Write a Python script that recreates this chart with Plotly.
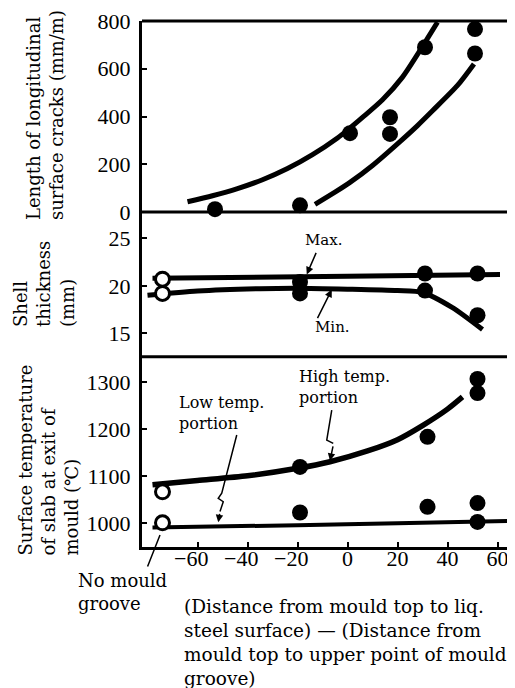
import plotly.graph_objects as go

# ---------------- data ----------------
# top panel: length of longitudinal surface cracks (mm/m)
crack_pts_x = [-53, -19, 1, 17, 17, 31, 51, 51]
crack_pts_y = [12, 28, 330, 397, 327, 690, 766, 664]
crack_upper_x = [-64, -54, -44, -34, -24, -14, -4, 0, 6, 14, 22, 28, 32, 36]
crack_upper_y = [43, 68, 98, 135, 182, 240, 310, 343, 396, 470, 565, 660, 727, 795]
crack_lower_x = [-13, -5, 1, 10, 21, 28, 34, 44, 50.6]
crack_lower_y = [32, 83, 124, 195, 295, 362, 424, 530, 620]

# middle panel: shell thickness (mm)
shell_pts_x = [-19, -19, 31, 31, 52, 52]
shell_pts_y = [20.4, 19.2, 21.3, 19.5, 21.3, 16.9]
shell_open_x = [-74, -74]
shell_open_y = [20.7, 19.2]
shell_max_x = [-78, 0, 61]
shell_max_y = [20.8, 21.0, 21.2]
shell_min_x = [-80, -60, -35, -20, 0, 20, 30, 42, 54]
shell_min_y = [19.0, 19.45, 19.7, 19.75, 19.65, 19.5, 19.3, 17.7, 15.4]

# bottom panel: surface temperature of slab at exit of mould (deg C)
temp_pts_x = [-19, -19, 32, 32, 52, 52, 52, 52]
temp_pts_y = [1120, 1023, 1184, 1035, 1307, 1277, 1043, 1003]
temp_open_x = [-74, -74]
temp_open_y = [1067, 1001]
temp_high_x = [-78, -60, -40, -20, -7, 8, 20, 30, 40, 46]
temp_high_y = [1082, 1091, 1101, 1117, 1131, 1154, 1178, 1208, 1243, 1269]
temp_low_x = [-78, -20, 20, 64]
temp_low_y = [991, 996, 1000, 1005]

x_ticks = [-60, -40, -20, 0, 20, 40, 60]
x_ticklabels = ["\u221260", "\u221240", "\u221220", "0", "20", "40", "60"]
crack_ticks = [0, 200, 400, 600, 800]
shell_ticks = [15, 20, 25]
temp_ticks = [1000, 1100, 1200, 1300]

# leader-line geometry for the labels (data coords)
low_leader_x = [-44.3, -50.3, -51.7, -49.7, -51.0]
low_leader_y = [1188, 1064, 1053, 1046, 1025]
high_leader_x = [-6.3, -8.3, -5.7]
high_leader_y = [1241, 1177, 1170]

# ---------------- figure ----------------
TICKFONT = dict(family="Liberation Serif", size=22, color="black")
SERIF = "DejaVu Serif"

# negative labels: pad with an invisible minus so the digits sit centred on the tick
PAD = "<span style='color:rgba(0,0,0,0)'>\u2212</span>"
x_ticktext = [t + PAD if t.startswith("\u2212") else t for t in x_ticklabels]

fig = go.Figure()

def pts(x, y, ya, open_=False):
    if open_:
        m = dict(size=14, color="white", line=dict(color="black", width=3))
    else:
        m = dict(size=16, color="black", line=dict(width=0))
    return go.Scatter(x=x, y=y, xaxis="x", yaxis=ya, mode="markers",
                      marker=m, cliponaxis=False, showlegend=False, hoverinfo="skip")

def curve(x, y, ya, w=5, sm=0.7):
    return go.Scatter(x=x, y=y, xaxis="x", yaxis=ya, mode="lines",
                      line=dict(color="black", width=w, shape="spline", smoothing=sm),
                      cliponaxis=False, showlegend=False, hoverinfo="skip")

fig.add_trace(curve(crack_upper_x, crack_upper_y, "y", 5))
fig.add_trace(curve(crack_lower_x, crack_lower_y, "y", 5))
fig.add_trace(pts(crack_pts_x, crack_pts_y, "y"))

fig.add_trace(curve(shell_max_x, shell_max_y, "y2", 5))
fig.add_trace(curve(shell_min_x, shell_min_y, "y2", 5))
fig.add_trace(pts(shell_pts_x, shell_pts_y, "y2"))
fig.add_trace(pts(shell_open_x, shell_open_y, "y2", open_=True))

fig.add_trace(curve(temp_high_x, temp_high_y, "y3", 5.5))
fig.add_trace(curve(temp_low_x, temp_low_y, "y3", 4))
fig.add_trace(pts(temp_pts_x, temp_pts_y, "y3"))
fig.add_trace(pts(temp_open_x, temp_open_y, "y3", open_=True))

# page has an 8px body margin: compensate so screen pixels match the reference
OFF = 8
L, R, T, B = 142 - OFF, 2 + OFF, 21 - OFF, 141 + OFF
W = 515 - L - R
H = 688 - T - B
def py(p):  # reference pixel row -> paper y
    return (688 - B - (p - OFF)) / H
def px(p):  # reference pixel col -> paper x
    return (p - OFF - L) / W

d_top = py(212)
d_mid = py(356.7)

yax = dict(showgrid=False, zeroline=False, showline=True, linecolor="black", linewidth=3,
           ticks="inside", ticklen=5, tickwidth=2, tickcolor="black",
           tickfont=TICKFONT, anchor="x", ticklabelstandoff=4, automargin=False)

fig.update_layout(
    width=515, height=688,
    margin=dict(l=L, r=R, t=T, b=B, autoexpand=False),
    paper_bgcolor="white", plot_bgcolor="white",
    xaxis=dict(domain=[0, 1], range=[-82.2, 66.2], anchor="y3", automargin=False,
               showgrid=False, zeroline=False, showline=True, linecolor="black", linewidth=3,
               ticks="inside", ticklen=5, tickwidth=2, tickcolor="black",
               tickvals=x_ticks, ticktext=x_ticktext, tickfont=TICKFONT,
               ticklabelstandoff=-10),
    yaxis=dict(domain=[d_top, 1], range=[0, 800], tickvals=crack_ticks, **yax),
    yaxis2=dict(domain=[d_mid, d_top], range=[12.54, 27.77], tickvals=shell_ticks, **yax),
    yaxis3=dict(domain=[0, d_mid], range=[949.6, 1354.5], tickvals=temp_ticks, **yax),
)

# panel borders (horizontal)
for yy in [1, d_top, d_mid]:
    fig.add_shape(type="line", xref="paper", yref="paper", x0=0, x1=1.005, y0=yy, y1=yy,
                  line=dict(color="black", width=3))

# leader zigzags
def path(xs, ys):
    return "M " + " L ".join(f"{a},{b}" for a, b in zip(xs, ys))

fig.add_shape(type="path", xref="x", yref="y3", path=path(low_leader_x, low_leader_y),
              line=dict(color="black", width=1.5))
fig.add_shape(type="path", xref="x", yref="y3", path=path(high_leader_x, high_leader_y),
              line=dict(color="black", width=1.5))

ann = []
def txt(x, y, s, size, xanchor="left", yanchor="middle", angle=0, align="left"):
    ann.append(dict(x=x, y=y, xref="paper", yref="paper", text=s, showarrow=False,
                    font=dict(family=SERIF, size=size, color="black"),
                    xanchor=xanchor, yanchor=yanchor, textangle=angle, align=align))

def arrow(x, y, ax, ay, yref, head=2):
    ann.append(dict(x=x, y=y, xref="x", yref=yref, ax=ax, ay=ay, text="", showarrow=True,
                    arrowhead=head, arrowsize=1, arrowwidth=1.5, arrowcolor="black"))

# y-axis titles (rotated)
txt(px(45), py(222), "Length of longitudinal<br>surface cracks (mm/m)", 18,
    xanchor="center", yanchor="bottom", angle=-90)
txt(px(44), py(329), "Shell<br>thickness<br>(mm)", 18, xanchor="center", yanchor="bottom", angle=-90)
txt(px(48), py(558), "Surface temperature<br>of slab at exit of<br>mould (\u2103)", 18,
    xanchor="center", yanchor="bottom", angle=-90)

# x-axis title
txt(px(182), py(594), "(Distance from mould top to liq.<br>steel surface) \u2014 (Distance from<br>"
    "mould top to upper point of mould<br>groove)", 18.5, xanchor="left", yanchor="top")

# labels
txt(px(303), py(240), "Max.", 15)
txt(px(313), py(327), "Min.", 15)
arrow(-16.3, 21.2, 10, -23, "y2")
arrow(-6.3, 19.6, -15, 30, "y2")
txt(px(177), py(413), "Low temp.<br>portion", 16, yanchor="middle")
txt(px(297), py(387), "High temp.<br>portion", 16, yanchor="middle")
arrow(-51.7, 1002, 1.7, -10, "y3")
arrow(-7.0, 1133, 3.3, -16, "y3")
txt(px(76), py(592), "No mould<br>groove", 18, xanchor="left", yanchor="middle")
arrow(-75, 975, -13, 33, "y3", head=0)

fig.update_layout(annotations=ann)

fig.write_html("out.html")
